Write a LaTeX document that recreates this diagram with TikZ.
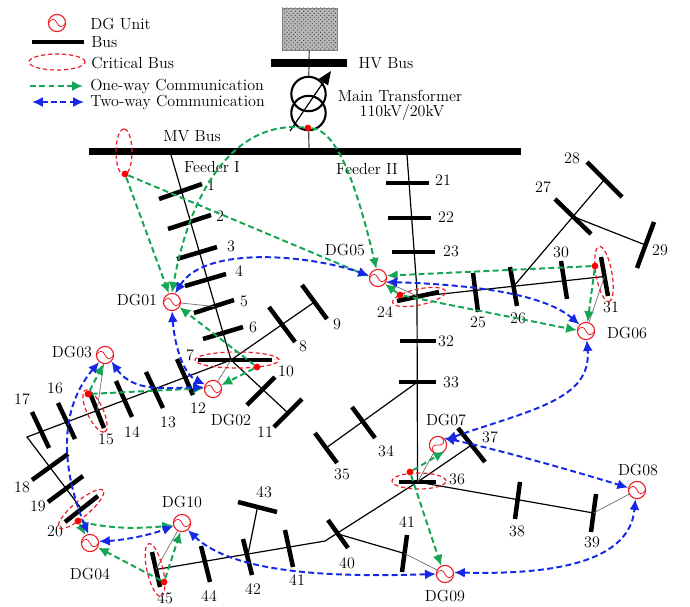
\documentclass[tikz,border=0pt]{standalone}
\usepackage{xcolor}
\usepackage{tikz}
\usetikzlibrary{arrows.meta,shapes.geometric,patterns}
\definecolor{dgred}{RGB}{235,30,40}
\definecolor{onegreen}{RGB}{20,165,85}
\definecolor{twoblue}{RGB}{20,40,230}
\definecolor{thingray}{RGB}{110,110,110}
\tikzset{
  % --- Network -------------------------------------------------------------
  busbar/.style={line width=3.2pt, draw=black},
  mainbus/.style={line width=5.4pt, draw=black},
  feeder/.style={draw=black, line width=0.85pt},
  dgline/.style={draw=thingray, line width=0.5pt},
  buslabel/.style={font=\fontsize{11.4}{13}\selectfont, inner sep=0pt},
  textlabel/.style={font=\fontsize{11.4}{13}\selectfont, inner sep=0pt, align=center},
  gridbox/.style={rectangle, draw=gray, line width=0.7pt, preaction={fill=gray!55},
    pattern=crosshatch dots, pattern color=black!70,
    minimum width=1.375cm, minimum height=1.05cm, inner sep=0pt},
  trafo/.style={circle, draw=black, line width=1.5pt, minimum size=.86cm, inner sep=0pt},
  % --- DG units and critical buses ------------------------------------------
  dgunit/.style={circle, draw=dgred, fill=white, line width=0.8pt, minimum size=.43cm, inner sep=0pt,
    path picture={\draw[dgred, line width=0.55pt] (-6pt,0pt) .. controls (-3.5pt,4pt) and (-1.5pt,3pt) .. (0pt,0pt)
      .. controls (1.5pt,-3pt) and (3.5pt,-4pt) .. (6pt,0pt);}},
  critbus/.style={ellipse, draw=dgred, densely dashed, line width=0.85pt, minimum height=.4cm, inner sep=0pt},
  reddot/.style={circle, fill=red, minimum size=.17cm, inner sep=0pt},
  % --- Communication ---------------------------------------------------------
  oneway/.style={draw=onegreen, line width=1.4pt, dash pattern=on 4.2pt off 2.4pt,
    -{Latex[length=2.7mm,width=2.5mm]}},
  twoway/.style={draw=twoblue, line width=1.4pt, dash pattern=on 4.2pt off 2.4pt,
    {Latex[length=2.7mm,width=2.5mm]}-{Latex[length=2.7mm,width=2.5mm]}},
}
\begin{document}
\begin{tikzpicture}[x=0.025cm, y=-0.025cm]
    \useasboundingbox (0,0) rectangle (690,606);

    % legend
    \node[dgunit] (dgkey) at (57,23) {};
    \coordinate (keybusa) at (32,42);
    \coordinate (keybusb) at (84,42);
    \draw[busbar] (keybusa) -- (keybusb);
    \node[critbus, minimum width=1.4cm] (critkey) at (57,62) {};
    \coordinate (keyonea) at (30,86);
    \coordinate (keyoneb) at (83,86);
    \coordinate (keytwoa) at (32,102);
    \coordinate (keytwob) at (84,102);
    \draw[oneway] (keyonea) -- (keyoneb);
    \draw[twoway] (keytwoa) -- (keytwob);
    \node[textlabel, anchor=west] (keydgtext) at (90,24) {DG Unit};
    \node[textlabel, anchor=west] (keybustext) at (91,42) {Bus};
    \node[textlabel, anchor=west] (keycrittext) at (91,63) {Critical Bus};
    \node[textlabel, anchor=west] (keyonetext) at (90,86) {One-way Communication};
    \node[textlabel, anchor=west] (keytwotext) at (90,102) {Two-way Communication};

    % HV side
    \node[gridbox] (hvgrid) at (309.5,29) {};
    \coordinate (hvbusa) at (271,63);
    \coordinate (hvbusb) at (347,63);
    \coordinate (hvbusc) at (309,63);
    \coordinate (mvbusa) at (89,151.5);
    \coordinate (mvbusb) at (521,151.5);
    \coordinate (mvbusc) at (309,151.5);
    \node[trafo] (trup) at (308.5,94) {};
    \node[trafo] (trlow) at (308.5,113) {};
    \coordinate (tapa) at (290,131);
    \coordinate (tapb) at (331,71);
    \draw[feeder, draw=black!70] (hvgrid) -- (hvbusc) -- (trup);
    \draw[feeder, draw=black!70] (trlow) -- (mvbusc);
    \draw[mainbus] (hvbusa) -- (hvbusb);
    \draw[mainbus] (mvbusa) -- (mvbusb);
    \draw[feeder, -{Triangle[length=3.4mm,width=2.8mm]}] (tapa) -- (tapb);
    \node[textlabel] (hvtext) at (386,63) {HV Bus};
    \node[textlabel] (trtext) at (400,96) {Main Transformer};
    \node[textlabel] (trkvtext) at (402,112) {110kV/20kV};
    \node[textlabel] (mvtext) at (192,136) {MV Bus};
    \node[textlabel] (feedatext) at (212,167) {Feeder I};
    \node[textlabel] (feedbtext) at (367,169) {Feeder II};

    % buses with their numbers
    \foreach \busname/\ax/\ay/\bx/\by/\lx/\ly/\lab in {
      1/159/199/202/184/211/185/1, 2/168/229/211/215/220/216/2, 3/177/259/217/247/231/246/3,
      4/185/286/226/274/239/271/4, 5/194/313/234/300/244/301/5, 6/203/339/243/327/253/327/6,
      7/198/360/272/360/190/355/7, 8/269/307/295/342/303/346/8, 9/302/285/327/319/337/324/9,
      10/247/405/275/377/286/371/10, 11/274/427/302/399/265/432/11, 12/177/359/193/395/198/408/12,
      13/146/372/163/408/168/422/13, 14/116/381/132/417/132/432/14, 15/90/393/104/428/106/439/15,
      16/58/403/75/439/55/388/16, 17/32/412/49/448/22/399/17, 18/32/480/68/454/22/487/18,
      19/48/502/83/476/38/506/19, 20/65/522/98/496/55/531/20, 21/386/183/429/183/443/180/21,
      22/388/218/431/218/446/217/22, 23/392/252/435/252/451/251/23, 24/397/301/439/292/385/312/24,
      25/473/273/478/312/478/322/25, 26/510/267/517/306/518/318/26, 27/555/199/591/234/543/187/27,
      28/587/162/622/197/572/158/28, 29/654/222/637/268/660/250/29, 30/561/261/567/299/561/252/30,
      31/601/257/608/296/611/307/31, 32/400/341/436/341/446/341/32, 33/399/382/436/382/451/382/33,
      34/352/407/375/438/386/451/34, 35/315/433/337/463/342/474/35, 36/399/482/436/482/457/479/36,
      37/458/428/485/462/490/437/37, 38/520/482/515/519/517/531/38, 39/596/494/591/532/592/542/39,
      40/328/520/348/548/347/563/40, 41/407/535/402/572/407/522/41, 41b/285/530/293/567/297/580/41,
      42/243/539/252/575/253/589/42, 43/238/502/277/512/264/492/43, 44/201/546/210/582/209/596/44,
      45/152/552/160/587/165/598/45} {
      \draw[busbar] (\ax,\ay) -- coordinate[midway] (b\busname) (\bx,\by);
      \node[buslabel] (l\busname) at (\lx,\ly) {\lab};
    }

    % feeders
    \coordinate (fdastart) at (171,155);
    \coordinate (fdajoin) at (231,360);
    \coordinate (fdaturn) at (27,437);
    \coordinate (fdbstart) at (407,155);
    \coordinate (fdbturn) at (417,290);
    \coordinate (fdbkink) at (325,541);
    \draw[feeder] (fdastart) -- (fdajoin) -- (b11);
    \draw[feeder] (fdajoin) -- (b9);
    \draw[feeder] (fdajoin) -- (fdaturn) -- (b20);
    \draw[feeder] (fdbstart) -- (fdbturn) -- (b36);
    \draw[feeder] (b24) -- (b31);
    \draw[feeder] (b26) -- (b28);
    \draw[feeder] (b27) -- (b29);
    \draw[feeder] (b33) -- (b35);
    \draw[feeder] (b36) -- (b37);
    \draw[feeder] (b36) -- (b39);
    \draw[feeder] (b36) -- (fdbkink) -- (b45);
    \draw[feeder] (b40) -- (b41);
    \draw[feeder] (b42) -- (b43);

    % DG units
    \node[dgunit] (dg01) at (172,302) {};
    \node[dgunit] (dg02) at (213,389) {};
    \node[dgunit] (dg03) at (105,355) {};
    \node[dgunit] (dg04) at (90,543) {};
    \node[dgunit] (dg05) at (378,278) {};
    \node[dgunit] (dg06) at (586,331) {};
    \node[dgunit, rotate=60] (dg07) at (438,445) {};
    \node[dgunit] (dg08) at (637,490) {};
    \node[dgunit] (dg09) at (445,574) {};
    \node[dgunit] (dg10) at (182,523) {};
    \node[textlabel] (dg01text) at (137,300) {DG01};
    \node[textlabel] (dg02text) at (231,420) {DG02};
    \node[textlabel] (dg03text) at (72,352) {DG03};
    \node[textlabel] (dg04text) at (90,574) {DG04};
    \node[textlabel] (dg05text) at (345,250) {DG05};
    \node[textlabel] (dg06text) at (627,333) {DG06};
    \node[textlabel] (dg07text) at (446,420) {DG07};
    \node[textlabel] (dg08text) at (638,470) {DG08};
    \node[textlabel] (dg09text) at (445,596) {DG09};
    \node[textlabel] (dg10text) at (182,502) {DG10};
    \draw[dgline] (dg01) -- (b5);
    \draw[dgline] (dg02) -- (fdajoin);
    \draw[dgline] (dg03) -- (b15);
    \draw[dgline] (dg05) -- (b24);
    \draw[dgline] (dg06) -- (b31);
    \draw[dgline] (dg07) -- (b36);
    \draw[dgline] (dg08) -- (b39);
    \draw[dgline] (dg09) -- (b41);
    \draw[dgline] (dg10) -- (b45);

    % critical buses
    \foreach \cname/\cx/\cy/\cw/\crot in {
      mv/124/152/1.15/90, 7/237/360/2.1/0, 15/95/411/1.15/-65, 20/81/509/1.45/40,
      45/155/570/1.35/-77, 24/419/297/1.35/12, 31/604/274/1.4/-80, 36/419/481/1.35/0} {
      \node[critbus, minimum width=\cw cm, rotate=\crot] (crit\cname) at (\cx,\cy) {};
    }
    \node[reddot] (dotmv) at (125,174) {};
    \node[reddot] (dottr) at (308,128) {};
    \node[reddot] (dot24) at (400,295) {};
    \node[reddot] (dot31) at (595,266) {};
    \node[reddot] (dot7) at (257,367) {};
    \node[reddot] (dot15) at (88,394) {};
    \node[reddot] (dot20) at (78,521) {};
    \node[reddot] (dot45) at (164,582) {};
    \node[reddot] (dot36) at (410,472) {};

    % one-way links
    \draw[oneway] (dotmv) -- (dg01.110);
    \draw[oneway] (dotmv) -- (dg05.170);
    \draw[oneway] (dottr) .. controls (235,120) and (190,190) .. (dg01.90);
    \draw[oneway] (dottr) .. controls (340,130) and (360,200) .. (dg05.100);
    \draw[oneway] (dot24) -- (dg05.-40);
    \draw[oneway] (dot24) -- (dg06.175);
    \draw[oneway] (dot31) -- (dg05.15);
    \draw[oneway] (dot31) -- (dg06.80);
    \draw[oneway] (dot7) -- (dg01.-35);
    \draw[oneway] (dot7) -- (dg02.25);
    \draw[oneway] (dot15) -- (dg03.-100);
    \draw[oneway] (dot15) -- (dg02.175);
    \draw[oneway] (dot20) -- (dg04.120);
    \draw[oneway] (dot20) .. controls (115,530) and (145,528) .. (dg10.195);
    \draw[oneway] (dot45) -- (dg04.-30);
    \draw[oneway] (dot45) -- (dg10.-100);
    \draw[oneway] (dot36) -- (dg07.-105);
    \draw[oneway] (dot36) -- (dg09.115);

    % two-way links
    \draw[twoway] (dg01.70) .. controls (205,245) and (310,255) .. (dg05.165);
    \draw[twoway] (dg05.-25) .. controls (480,285) and (545,295) .. (dg06.135);
    \draw[twoway] (dg01.-90) .. controls (175,350) and (185,375) .. (dg02.150);
    \draw[twoway] (dg03.-45) .. controls (135,395) and (175,387) .. (dg02.170);
    \draw[twoway] (dg03.-130) .. controls (50,420) and (70,490) .. (dg04.100);
    \draw[twoway] (dg04.10) .. controls (125,540) and (150,535) .. (dg10.200);
    \draw[twoway] (dg10.-50) .. controls (235,575) and (340,577) .. (dg09.180);
    \draw[twoway] (dg09.10) .. controls (560,575) and (630,560) .. (dg08.-100);
    \draw[twoway] (dg07.-10) .. controls (500,450) and (570,470) .. (dg08.165);
    \draw[twoway] (dg07.-25) .. controls (530,410) and (592,400) .. (dg06.-85);
\end{tikzpicture}
\end{document}
